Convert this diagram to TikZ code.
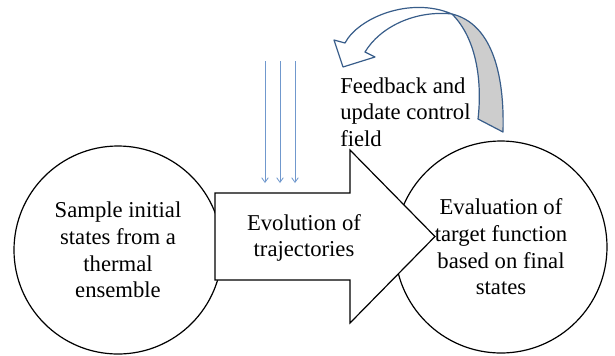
\documentclass[tikz,border=0pt]{standalone}
\usepackage{fontspec}
\setmainfont{Liberation Serif}
\usetikzlibrary{arrows.meta}
\definecolor{outlineblue}{RGB}{56,93,138}
\definecolor{rayblue}{RGB}{112,152,205}
\definecolor{backgrey}{RGB}{205,205,205}
\tikzstyle{stage}=[draw,circle,fill=white,line width=0.9pt,align=center,inner sep=0pt]
\tikzstyle{caption}=[inner sep=0pt,font=\fontsize{17}{20}\selectfont]
\tikzstyle{ray}=[rayblue,line width=0.6pt,-{Straight Barb[length=3.5pt,width=5pt]}]
\tikzstyle{loopband}=[draw=outlineblue,line width=0.9pt,line join=round]

\begin{document}
\begin{tikzpicture}[x=0.75pt,y=-0.75pt]
\useasboundingbox (0,0) rectangle (615,355);
% the two circles
\node [stage,caption,minimum size=156pt] (sample) at (118,250) {Sample initial\\states from a\\thermal\\ensemble};
\node [stage,caption,minimum size=159pt] (evaluate) at (501,247) {Evaluation of\\target function\\based on final\\states};
% big arrow in the middle
\coordinate (tail top) at (215,193);
\coordinate (tail bottom) at (215,280);
\draw [fill=white,line width=0.9pt,line join=miter]
    (tail top) -- (350,193) -- (350,150) -- (435,236.5) -- (350,323) -- (350,280) -- (tail bottom) -- cycle;
\node [caption,align=center] (evolve) at (304,238) {Evolution of\\trajectories};
% control field rays
\foreach \x/\n in {265/a,280/b,295/c} {
    \coordinate (ray top \n) at (\x,61);
    \coordinate (ray end \n) at (\x,183);
    \draw [ray] (ray top \n) -- (ray end \n);
}
% curved feedback arrow
\coordinate (cross) at (452,14);
\coordinate (head outer) at (345,43);
\coordinate (head inner) at (365,52);
\coordinate (tip) at (343,67);
\draw [loopband,fill=backgrey]
    (cross) .. controls (485,22) and (505,60) .. (503,132) -- (478,119)
    .. controls (482,85) and (478,40) .. (cross);
\draw [loopband,fill=white]
    (head outer) .. controls (358,18) and (410,-4) .. (cross)
    .. controls (415,10) and (380,27) .. (head inner)
    -- (375,57) -- (tip) -- (334,40) -- cycle;
\node [caption,align=left,anchor=west] (feedback) at (340,112) {Feedback and\\update control\\field};
\end{tikzpicture}
\end{document}
